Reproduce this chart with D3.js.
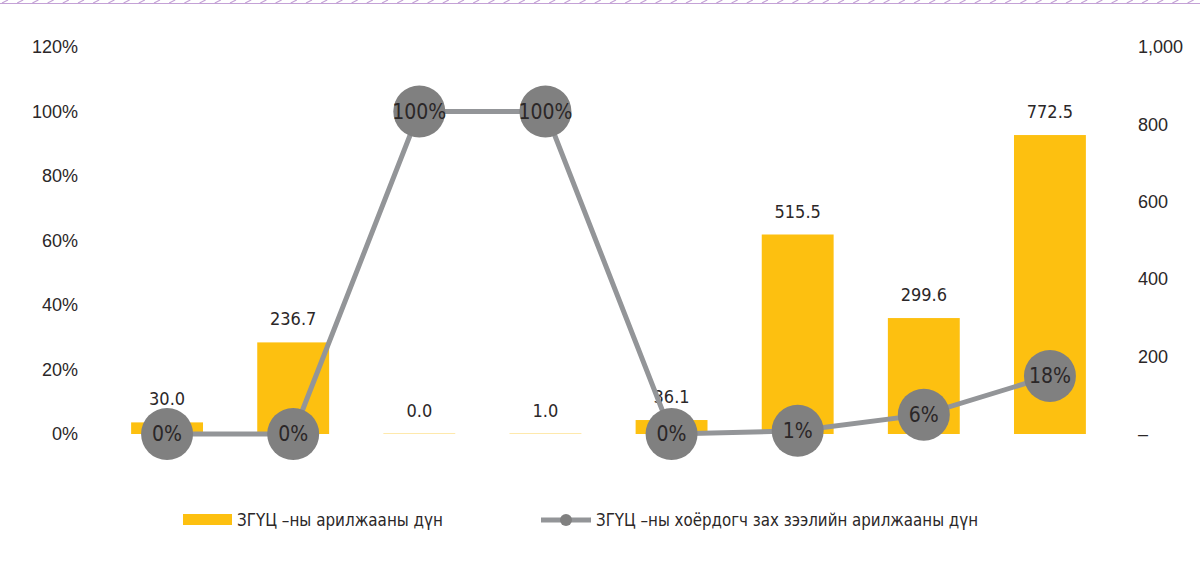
<!DOCTYPE html>
<html>
<head>
<meta charset="utf-8">
<script src="https://cdn.jsdelivr.net/npm/d3@7"></script>
<style>
  body { margin: 0; background: #fff; }
  svg { display: block; font-family: "Liberation Sans Narrow", "DejaVu Sans Condensed", sans-serif; }
</style>
</head>
<body>
<svg id="chart" width="1200" height="566"></svg>
<script>
// data
const categories = ["c1", "c2", "c3", "c4", "c5", "c6", "c7", "c8"];
const tradeValues = [30.0, 236.7, 0.0, 1.0, 36.1, 515.5, 299.6, 772.5];
const secondaryShare = [0, 0, 1.00, 1.00, 0, 0.01, 0.06, 0.18];
const shareLabels = ["0%", "0%", "100%", "100%", "0%", "1%", "6%", "18%"];
const leftTicks = [0, 0.2, 0.4, 0.6, 0.8, 1.0, 1.2];
const rightTicks = [0, 200, 400, 600, 800, 1000];
const barName = "ЗГҮЦ –ны арилжааны дүн";
const lineName = "ЗГҮЦ –ны хоёрдогч зах зээлийн арилжааны дүн";

const barColor = "#fdc010";
const lineColor = "#939598";
const dotColor = "#808080";
const textColor = "#2b2728";

const svg = d3.select("#chart");

// hatched top border
const border = svg.append("g");
border.append("line")
    .attr("x1", 0).attr("x2", 1200)
    .attr("y1", 3.5).attr("y2", 3.5)
    .attr("stroke", "#c4a2d6").attr("stroke-width", 1.2);
border.selectAll("line.hatch")
    .data(d3.range(0, 1200, 15.2))
    .join("line")
    .attr("class", "hatch")
    .attr("x1", d => d + 2).attr("x2", d => d + 8)
    .attr("y1", 3).attr("y2", 0)
    .attr("stroke", "#c4a2d6").attr("stroke-width", 1.2);

const x = d3.scaleBand()
    .domain(categories)
    .range([104, 1113])
    .paddingInner(0.43)
    .paddingOuter(0.215);

const yLeft = d3.scaleLinear().domain([0, 1.2]).range([434, 47]);
const yRight = d3.scaleLinear().domain([0, 1000]).range([434, 47]);

// left axis
const leftAxis = svg.append("g")
    .attr("transform", "translate(78,0)")
    .call(d3.axisLeft(yLeft).tickValues(leftTicks).tickSize(0).tickPadding(0)
        .tickFormat(d3.format(".0%")));
leftAxis.select(".domain").remove();
leftAxis.selectAll("text")
    .attr("font-size", 18).attr("fill", textColor)
    .attr("font-family", "inherit");

// right axis
const rightAxis = svg.append("g")
    .attr("transform", "translate(1138,0)")
    .call(d3.axisRight(yRight).tickValues(rightTicks).tickSize(0).tickPadding(0)
        .tickFormat(d => d === 0 ? "–" : d3.format(",")(d)));
rightAxis.select(".domain").remove();
rightAxis.selectAll("text")
    .attr("font-size", 18).attr("fill", textColor)
    .attr("font-family", "inherit");

// bars
svg.append("g").selectAll("rect")
    .data(tradeValues)
    .join("rect")
    .attr("x", (d, i) => x(categories[i]))
    .attr("width", x.bandwidth())
    .attr("y", d => Math.min(yRight(d), yRight(0) - 1))
    .attr("height", d => Math.max(yRight(0) - yRight(d), 1))
    .attr("fill", barColor)
    .attr("fill-opacity", d => d < 2 ? 0.35 : 1);

// bar labels
svg.append("g").selectAll("text")
    .data(tradeValues)
    .join("text")
    .attr("x", (d, i) => x(categories[i]) + x.bandwidth() / 2)
    .attr("y", d => yRight(d) - 17)
    .attr("text-anchor", "middle")
    .attr("font-size", 18)
    .attr("fill", textColor)
    .text(d => d3.format(".1f")(d));

// line
const cx = i => x(categories[i]) + x.bandwidth() / 2;
const line = d3.line()
    .x((d, i) => cx(i))
    .y(d => yLeft(d));

svg.append("path")
    .datum(secondaryShare)
    .attr("d", line)
    .attr("fill", "none")
    .attr("stroke", lineColor)
    .attr("stroke-width", 5);

const dots = svg.append("g").selectAll("g")
    .data(secondaryShare)
    .join("g")
    .attr("transform", (d, i) => `translate(${cx(i)},${yLeft(d)})`);

dots.append("circle")
    .attr("r", 26)
    .attr("fill", dotColor);

dots.append("text")
    .attr("text-anchor", "middle")
    .attr("dy", "0.35em")
    .attr("font-size", 21)
    .attr("fill", textColor)
    .text((d, i) => shareLabels[i]);

// legend
const legend = svg.append("g");
legend.append("rect")
    .attr("x", 183).attr("y", 514)
    .attr("width", 49).attr("height", 11)
    .attr("fill", barColor);
legend.append("text")
    .attr("x", 237).attr("y", 520)
    .attr("dy", "0.35em")
    .attr("font-size", 18)
    .attr("textLength", 206)
    .attr("lengthAdjust", "spacingAndGlyphs")
    .attr("fill", textColor)
    .text(barName);

legend.append("line")
    .attr("x1", 541).attr("x2", 591)
    .attr("y1", 520).attr("y2", 520)
    .attr("stroke", lineColor).attr("stroke-width", 5);
legend.append("circle")
    .attr("cx", 566).attr("cy", 520).attr("r", 6)
    .attr("fill", dotColor);
legend.append("text")
    .attr("x", 596).attr("y", 520)
    .attr("dy", "0.35em")
    .attr("font-size", 18)
    .attr("textLength", 382)
    .attr("lengthAdjust", "spacingAndGlyphs")
    .attr("fill", textColor)
    .text(lineName);
</script>
</body>
</html>
